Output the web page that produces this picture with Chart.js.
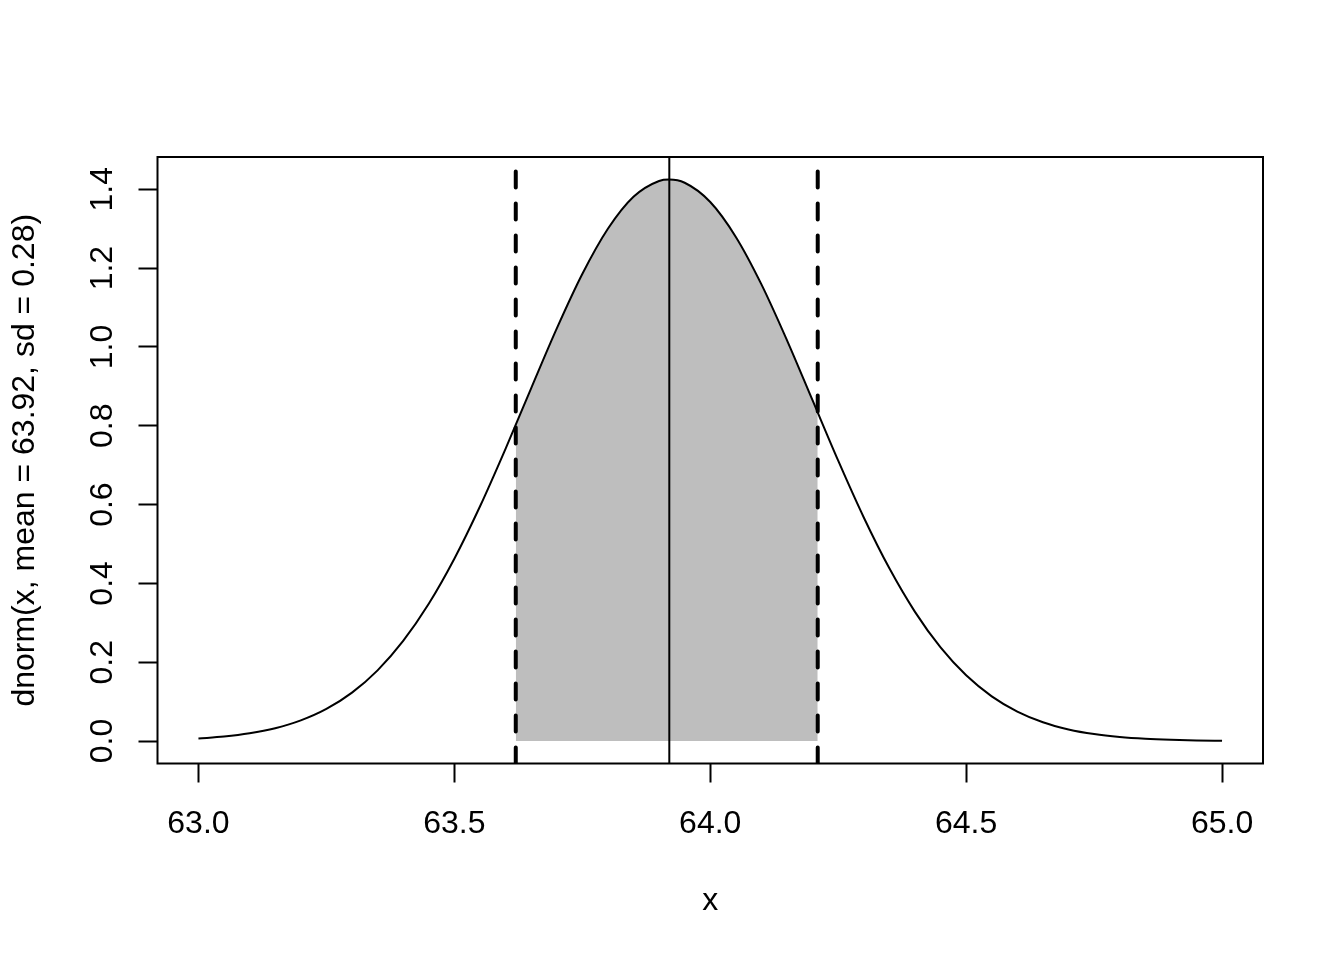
<!DOCTYPE html>
<html>
<head>
<meta charset="utf-8">
<script src="https://cdn.jsdelivr.net/npm/chart.js@4.4.0/dist/chart.umd.min.js"></script>
<style>
html,body{margin:0;padding:0;background:#ffffff;overflow:hidden}
#wrap{width:1344px;height:960px}
</style>
</head>
<body>
<div id="wrap"><canvas id="c" width="1344" height="960"></canvas></div>
<script>
// ---- data ----
const curveX = [63.00,63.05,63.10,63.15,63.20,63.25,63.30,63.35,63.40,63.45,63.50,63.55,63.60,63.65,63.70,63.75,63.80,63.85,63.90,63.92,63.95,64.00,64.05,64.10,64.15,64.20,64.25,64.30,64.35,64.40,64.45,64.50,64.55,64.60,64.65,64.70,64.75,64.80,64.85,64.90,64.95,65.00];
const curveY = [0.0065,0.0114,0.0196,0.0325,0.0523,0.0814,0.1228,0.1794,0.2540,0.3483,0.4626,0.5951,0.7415,0.8950,1.0464,1.1850,1.2998,1.3810,1.4212,1.4248,1.4166,1.3678,1.2792,1.1588,1.0168,0.8642,0.7114,0.5673,0.4382,0.3278,0.2375,0.1667,0.1134,0.0747,0.0476,0.0294,0.0176,0.0102,0.0057,0.0031,0.0016,0.0008];
const shadeX = [63.62,63.65,63.70,63.75,63.80,63.85,63.90,63.92,63.95,64.00,64.05,64.10,64.15,64.20,64.21];
const shadeY = [0.8025,0.8950,1.0464,1.1850,1.2998,1.3810,1.4212,1.4248,1.4166,1.3678,1.2792,1.1588,1.0168,0.8642,0.8333];
const meanX = 63.92;
const ciX = [63.62, 64.21];
const ciTop = 1.445;
const xTicks = [63.0, 63.5, 64.0, 64.5, 65.0];
const yTicks = [0.0, 0.2, 0.4, 0.6, 0.8, 1.0, 1.2, 1.4];
const xRange = [62.92, 65.08];
const yRange = [-0.057, 1.482];
const xTitle = 'x';
const yTitle = 'dnorm(x, mean = 63.92, sd = 0.28)';

const FONT = '"Liberation Sans", Arial, Helvetica, sans-serif';

const pts = (xs, ys) => xs.map((x, i) => ({x: x, y: ys[i]}));

const boxAndYLabels = {
  id: 'boxAndYLabels',
  afterDraw(chart) {
    const ctx = chart.ctx;
    const a = chart.chartArea;
    ctx.save();
    ctx.strokeStyle = '#000';
    ctx.lineWidth = 2;
    ctx.strokeRect(a.left, a.top, a.right - a.left, a.bottom - a.top);
    const ys = chart.scales.y;
    ctx.fillStyle = '#000';
    ctx.font = '32px ' + FONT;
    ctx.textAlign = 'center';
    ctx.textBaseline = 'alphabetic';
    ys.ticks.forEach(t => {
      const py = ys.getPixelForValue(t.value);
      ctx.save();
      ctx.translate(111.5, py);
      ctx.rotate(-Math.PI / 2);
      ctx.fillText(t.label, 0, 0);
      ctx.restore();
    });
    ctx.restore();
  }
};

new Chart(document.getElementById('c'), {
  type: 'line',
  data: {
    datasets: [
      {
        data: pts(shadeX, shadeY),
        borderWidth: 0,
        borderColor: 'rgba(0,0,0,0)',
        backgroundColor: '#BEBEBE',
        fill: 'origin',
        pointRadius: 0,
        cubicInterpolationMode: 'monotone',
        order: 5
      },
      {
        data: pts(curveX, curveY),
        borderColor: '#000',
        borderWidth: 2,
        fill: false,
        pointRadius: 0,
        cubicInterpolationMode: 'monotone',
        order: 4
      },
      {
        data: [{x: meanX, y: yRange[1]}, {x: meanX, y: yRange[0]}],
        borderColor: '#000',
        borderWidth: 2,
        fill: false,
        pointRadius: 0,
        clip: 0,
        order: 3
      },
      {
        data: [{x: ciX[0], y: ciTop}, {x: ciX[0], y: yRange[0] - 0.05}],
        borderColor: '#000',
        borderWidth: 4,
        borderDash: [16, 16],
        borderCapStyle: 'round',
        fill: false,
        pointRadius: 0,
        clip: 0,
        order: 2
      },
      {
        data: [{x: ciX[1], y: ciTop}, {x: ciX[1], y: yRange[0] - 0.05}],
        borderColor: '#000',
        borderWidth: 4,
        borderDash: [16, 16],
        borderCapStyle: 'round',
        fill: false,
        pointRadius: 0,
        clip: 0,
        order: 1
      }
    ]
  },
  options: {
    responsive: false,
    animation: false,
    layout: {padding: {left: 0, top: 157, right: 81, bottom: 0}},
    plugins: {legend: {display: false}, tooltip: {enabled: false}},
    scales: {
      x: {
        type: 'linear',
        min: xRange[0],
        max: xRange[1],
        afterBuildTicks: s => { s.ticks = xTicks.map(v => ({value: v})); },
        afterFit: s => { s.height = 196.5; },
        border: {display: false},
        grid: {display: true, drawOnChartArea: false, drawTicks: true, tickLength: 19, tickWidth: 2, tickColor: '#000'},
        ticks: {
          color: '#000',
          font: {family: FONT, size: 32},
          padding: 22,
          maxRotation: 0,
          minRotation: 0,
          autoSkip: false,
          callback: v => Number(v).toFixed(1)
        },
        title: {
          display: true,
          text: xTitle,
          color: '#000',
          font: {family: FONT, size: 32},
          padding: {top: 0, bottom: 40}
        }
      },
      y: {
        type: 'linear',
        min: yRange[0],
        max: yRange[1],
        afterBuildTicks: s => { s.ticks = yTicks.map(v => ({value: v})); },
        afterFit: s => { s.width = 157.5; },
        border: {display: false},
        grid: {display: true, drawOnChartArea: false, drawTicks: true, tickLength: 19, tickWidth: 2, tickColor: '#000'},
        ticks: {
          color: 'rgba(0,0,0,0)',
          font: {family: FONT, size: 32},
          autoSkip: false,
          callback: v => Number(v).toFixed(1)
        },
        title: {
          display: true,
          text: yTitle,
          color: '#000',
          font: {family: FONT, size: 32},
          padding: {top: 6, bottom: 0}
        }
      }
    }
  },
  plugins: [boxAndYLabels]
});
</script>
</body>
</html>
